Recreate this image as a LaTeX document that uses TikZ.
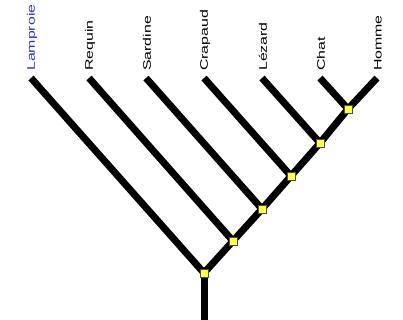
\documentclass[tikz,border=0pt]{standalone}
\usepackage{fontspec}
\setmainfont{Liberation Sans}
\usepackage{tikz}
\usetikzlibrary{positioning, calc, backgrounds}
\definecolor{cladecolor}{RGB}{255, 255, 70}
\definecolor{outgroupcolor}{RGB}{50, 50, 215}

\begin{document}
\begin{tikzpicture}[
    x=1bp, y=-1bp,
    clade/.style={draw=black!70, line width=0.5pt, fill=cladecolor, minimum size=8.5bp, inner sep=0pt},
    branch/.style={line width=7bp, line cap=butt, line join=miter},
    taxon/.style={rotate=90, anchor=west, inner sep=0pt, font=\fontsize{11}{13}\selectfont}
]
    \useasboundingbox (0,0) rectangle (403,320);

    % Clade nodes along the spine
    \node[clade] (root) at (204,273) {};
    \node[clade] (c2) at (233,241) {};
    \node[clade] (c3) at (262,209) {};
    \node[clade] (c4) at (291,176) {};
    \node[clade] (c5) at (320,143) {};
    \node[clade] (c6) at (348,109) {};
    \coordinate (base) at (204,321);

    % Leaf tips
    \coordinate (lamproie) at (31,78);
    \coordinate (requin) at (89,78);
    \coordinate (sardine) at (146,78);
    \coordinate (crapaud) at (204,78);
    \coordinate (lezard) at (262,78);
    \coordinate (chat) at (320,78);
    \coordinate (homme) at (377,78);

    % Taxon names
    \node[taxon, text=outgroupcolor] (tLamproie) at ($(lamproie)+(1,-7)$) {\scalebox{1.45}[1]{Lamproie}};
    \node[taxon] (tRequin) at ($(requin)+(1,-7)$) {\scalebox{1.45}[1]{Requin}};
    \node[taxon] (tSardine) at ($(sardine)+(1,-7)$) {\scalebox{1.45}[1]{Sardine}};
    \node[taxon] (tCrapaud) at ($(crapaud)+(1,-7)$) {\scalebox{1.45}[1]{Crapaud}};
    \node[taxon] (tLezard) at ($(lezard)+(1,-7)$) {\scalebox{1.45}[1]{Lézard}};
    \node[taxon] (tChat) at ($(chat)+(1,-7)$) {\scalebox{1.45}[1]{Chat}};
    \node[taxon] (tHomme) at ($(homme)+(1,-7)$) {\scalebox{1.45}[1]{Homme}};

    % Branches
    \begin{scope}[on background layer]
        \draw[branch] (base) -- (root.center);
        \draw[branch] (root.center) -- (c2.center) -- (c3.center) -- (c4.center) -- (c5.center) -- (c6.center) -- (homme);
        \draw[branch] (root.center) -- (lamproie);
        \draw[branch] (c2.center) -- (requin);
        \draw[branch] (c3.center) -- (sardine);
        \draw[branch] (c4.center) -- (crapaud);
        \draw[branch] (c5.center) -- (lezard);
        \draw[branch] (c6.center) -- (chat);
    \end{scope}
\end{tikzpicture}
\end{document}
